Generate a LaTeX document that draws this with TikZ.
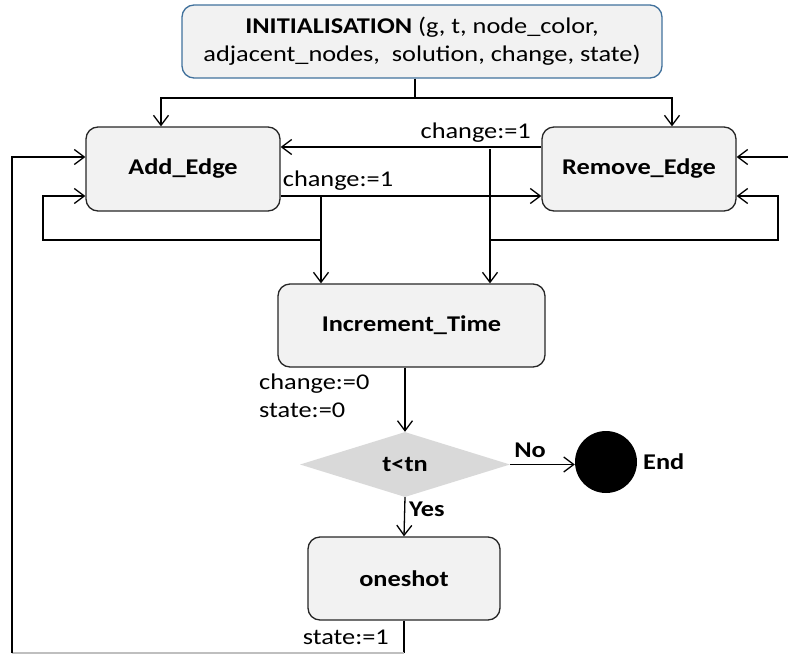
\documentclass[tikz,border=0pt]{standalone}
\usepackage{fontspec}
\setmainfont{Carlito}[FakeStretch=1.17]
\usetikzlibrary{arrows.meta,shapes.geometric}
\definecolor{boxfill}{HTML}{F2F2F2}
\definecolor{initborder}{HTML}{41719C}
\definecolor{diafill}{HTML}{D9D9D9}
\begin{document}
\begin{tikzpicture}[x=1pt,y=-1pt,
  font=\fontsize{22.5}{28}\selectfont,
  box/.style={draw=black!85, line width=1.3pt, fill=boxfill, rounded corners=12pt, inner sep=0pt, font=\fontsize{22.5}{28}\selectfont\bfseries},
  ln/.style={line width=1.3pt},
  arr/.style={ln, -{Straight Barb[length=10pt,width=15pt,line width=1.3pt]}},
  lbl/.style={inner sep=0pt},
  blbl/.style={inner sep=0pt, font=\fontsize{22.5}{28}\selectfont\bfseries}]
\useasboundingbox (0,0) rectangle (788,654);

% nodes
\node[box, draw=initborder, minimum width=480pt, minimum height=73pt, align=center, font=\fontsize{22.5}{28}\selectfont]
  (init) at (422,41.5) {\textbf{INITIALISATION} (g, t, node\_color,\\adjacent\_nodes,~ solution, change, state)};
\node[box, minimum width=194pt, minimum height=84pt] (add) at (183,169) {Add\_Edge};
\node[box, minimum width=194pt, minimum height=84pt] (rem) at (639,169) {Remove\_Edge};
\node[box, minimum width=267pt, minimum height=83pt] (inc) at (411.5,325.5) {Increment\_Time};
\node[diamond, fill=diafill, minimum width=210pt, minimum height=65pt, inner sep=0pt, font=\fontsize{22.5}{28}\selectfont\bfseries] (dia) at (405,464.5) {t<tn};
\node[circle, fill=black, minimum size=62pt, inner sep=0pt] (end) at (606,462) {};
\node[box, minimum width=192pt, minimum height=83pt] (one) at (404,578.5) {oneshot};

% helper coordinates
\coordinate (j1) at (415,98);
\coordinate (b1) at (321,196);
\coordinate (b2) at (490,149);
\coordinate (l1) at (321,240);
\coordinate (l2) at (43,240);
\coordinate (r1) at (490,240);
\coordinate (r2) at (778,240);
\coordinate (bl) at (12,653);
\coordinate (rin) at (790,157);

% init fan-out
\draw[ln] (init.south -| j1) -- (j1);
\draw[arr] (j1) -| ([xshift=-22pt]add.north);
\draw[arr] (j1) -| ([xshift=33pt]rem.north);

% between add and remove
\draw[arr] ([yshift=22pt]rem.west) -- ([yshift=22pt]add.east);
\draw[arr] ([yshift=-27pt]add.east) -- ([yshift=-27pt]rem.west);
\node[lbl, anchor=south east] at (531,143) {change:=1};
\node[lbl] at (338,181) {change:=1};

% down to increment
\draw[arr] (b1) -- (b1 |- inc.north);
\draw[arr] (b2) -- (b2 |- inc.north);

% self loops
\draw[arr] (l1) -- (l2) |- ([yshift=-27pt]add.west);
\draw[arr] (r1) -- (r2) |- ([yshift=-27pt]rem.east);

% incoming from right
\draw[arr] (rin) -- ([yshift=12pt]rem.east);

% increment to decision
\draw[arr] (inc.south -| dia.north) -- (dia.north);
\node[lbl, anchor=west] at (259,384) {change:=0};
\node[lbl, anchor=west] at (259,410) {state:=0};

% decision
\draw[arr] (dia.east) -- (dia.east -| end.west);
\node[blbl] at (530,450) {No};
\node[blbl, anchor=west] at (643,462) {End};
\draw[arr] (dia.south) -- (one.north);
\node[blbl, anchor=west] at (409,509) {Yes};

% oneshot back loop
\draw[ln] (one.south) -- (one.south |- bl);
\draw[line width=1.3pt, black!25] (one.south |- bl) -- (bl);
\draw[arr] (bl) |- ([yshift=12pt]add.west);
\node[lbl, anchor=east] at (389,637) {state:=1};
\end{tikzpicture}
\end{document}
